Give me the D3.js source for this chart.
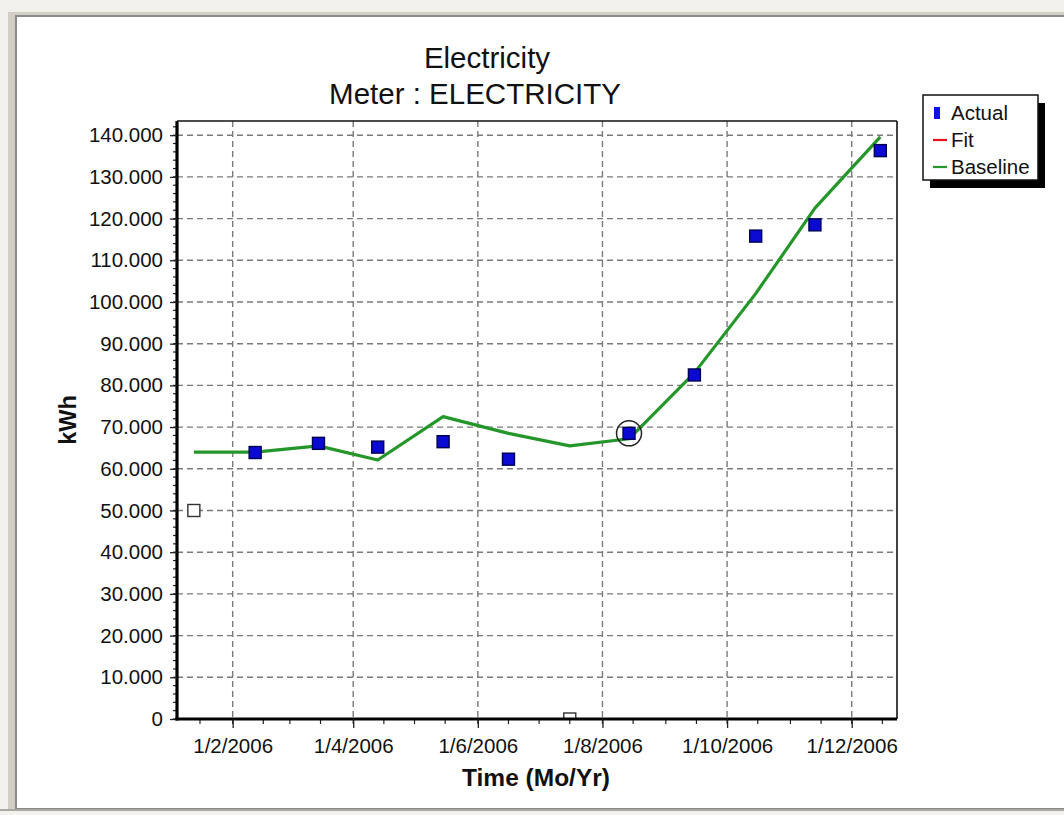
<!DOCTYPE html>
<html>
<head>
<meta charset="utf-8">
<script src="https://cdn.jsdelivr.net/npm/d3@7"></script>
<style>
  html, body { margin: 0; padding: 0; background: #f4f3ee; }
  svg { display: block; }
  text { font-family: "Liberation Sans", Arial, sans-serif; fill: #111; }
</style>
</head>
<body>
<svg id="chart" width="1064" height="815"></svg>
<script>
// ---- data ----
const readDates = ["2006-01-13","2006-02-12","2006-03-15","2006-04-13","2006-05-15","2006-06-16",
                   "2006-07-16","2006-08-14","2006-09-15","2006-10-15","2006-11-13","2006-12-15"];
const actualValues   = [50000, 63900, 66100, 65200, 66500, 62300, 0, 68500, 82500, 115800, 118500, 136300];
const excludedFlags  = [true, false, false, false, false, false, true, false, false, false, false, false];
const baselineValues = [64000, 64000, 65500, 62100, 72500, 68500, 65500, 67200, 83000, 102000, 122500, 139600];
const highlightIndex = [7];
const yTicks = [0,10000,20000,30000,40000,50000,60000,70000,80000,90000,100000,110000,120000,130000,140000];
const xTickDates = ["2006-02-01","2006-04-01","2006-06-01","2006-08-01","2006-10-01","2006-12-01"];
const legendItems = ["Actual","Fit","Baseline"];
const titleLines = ["Electricity","Meter : ELECTRICITY"];
const xTitle = "Time (Mo/Yr)";
const yTitle = "kWh";

// ---- setup ----
const parse = d3.timeParse("%Y-%m-%d");
const pts = readDates.map((d,i)=>({date: parse(d), actual: actualValues[i], excl: excludedFlags[i], base: baselineValues[i]}));

const svg = d3.select("#chart");
const L = 177, R = 897, T = 121, B = 719;

// window frame
svg.append("rect").attr("x",0).attr("y",0).attr("width",1064).attr("height",815).attr("fill","#f1f0ea");
svg.append("rect").attr("x",8).attr("y",12).attr("width",1056).attr("height",798).attr("fill","#d2cec6");
svg.append("rect").attr("x",15).attr("y",15).attr("width",1049).attr("height",794).attr("fill","#8a8a8a");
svg.append("rect").attr("x",17).attr("y",17).attr("width",1047).attr("height",791).attr("fill","#ffffff");
svg.append("rect").attr("x",0).attr("y",809).attr("width",1064).attr("height",2).attr("fill","#a9a9a4");
svg.append("rect").attr("x",0).attr("y",811).attr("width",1064).attr("height",4).attr("fill","#f3f2ec");

const x = d3.scaleTime()
  .domain([new Date(2006,0,4,18), new Date(2006,11,23,4)])
  .range([L, R]);
const y = d3.scaleLinear().domain([0, 143400]).range([B, T]);

const fmt = d3.formatLocale({decimal:",", thousands:".", grouping:[3], currency:["",""]}).format(",d");

// clip
svg.append("clipPath").attr("id","plotclip").append("rect")
  .attr("x",L).attr("y",T).attr("width",R-L).attr("height",B-T);

// grid
const grid = svg.append("g");
grid.selectAll("line.h").data(yTicks.filter(d=>d>0)).enter().append("line")
  .attr("x1",L).attr("x2",R).attr("y1",d=>y(d)).attr("y2",d=>y(d))
  .attr("stroke","#7a7a7a").attr("stroke-width",1.4).attr("stroke-dasharray","6,4");
grid.selectAll("line.v").data(xTickDates.map(parse)).enter().append("line")
  .attr("x1",d=>x(d)).attr("x2",d=>x(d)).attr("y1",T).attr("y2",B)
  .attr("stroke","#7a7a7a").attr("stroke-width",1.4).attr("stroke-dasharray","6,4");

const plot = svg.append("g").attr("clip-path","url(#plotclip)");

// baseline line
plot.append("path").datum(pts)
  .attr("d", d3.line().x(d=>x(d.date)).y(d=>y(d.base)))
  .attr("fill","none").attr("stroke","#24962a").attr("stroke-width",3.2).attr("stroke-linejoin","round");

// actual points
const S = 12;
plot.selectAll("rect.pt").data(pts).enter().append("rect")
  .attr("x",d=>x(d.date)-S/2).attr("y",d=>y(d.actual)-S/2)
  .attr("width",S).attr("height",S)
  .attr("fill",d=>d.excl ? "#ffffff" : "#0a0ad2")
  .attr("stroke",d=>d.excl ? "#333" : "#000055").attr("stroke-width",1.4);

// highlight circle
plot.selectAll("circle.hl").data(highlightIndex.map(i=>pts[i])).enter().append("circle")
  .attr("cx",d=>x(d.date)).attr("cy",d=>y(d.actual)).attr("r",12.5)
  .attr("fill","none").attr("stroke","#222").attr("stroke-width",1.5);

// frame top/right
svg.append("line").attr("x1",L).attr("x2",R).attr("y1",T).attr("y2",T).attr("stroke","#111").attr("stroke-width",1.6);
svg.append("line").attr("x1",R).attr("x2",R).attr("y1",T).attr("y2",B).attr("stroke","#111").attr("stroke-width",1.6);

// minor ticks
const minorY = d3.range(0, 143001, 2000);
svg.append("g").selectAll("line").data(minorY).enter().append("line")
  .attr("x1",L-4).attr("x2",L).attr("y1",d=>y(d)).attr("y2",d=>y(d))
  .attr("stroke","#222").attr("stroke-width",1.2);
const minorX = [];
for (let m = 0; m < 12; m++) { minorX.push(new Date(2006,m,1)); minorX.push(new Date(2006,m,16)); }
svg.append("g").selectAll("line").data(minorX.filter(d=>x(d)>L && x(d)<R)).enter().append("line")
  .attr("x1",d=>x(d)).attr("x2",d=>x(d)).attr("y1",B).attr("y2",B+5)
  .attr("stroke","#222").attr("stroke-width",1.2);

// y axis
const yAxis = svg.append("g").attr("transform",`translate(${L},0)`)
  .call(d3.axisLeft(y).tickValues(yTicks).tickFormat(fmt).tickSize(7).tickPadding(7));
yAxis.select(".domain").attr("stroke","#000").attr("stroke-width",3.2).attr("d",`M0,${T}V${B+1.5}`);
yAxis.selectAll(".tick line").attr("stroke","#222").attr("stroke-width",1.3);
yAxis.selectAll(".tick text").attr("font-size",20.5).attr("fill","#1a1a1a")
  .style("font-family","'Liberation Sans', Arial, sans-serif");

// x axis
const xAxis = svg.append("g").attr("transform",`translate(0,${B})`)
  .call(d3.axisBottom(x).tickValues(xTickDates.map(parse))
    .tickFormat(d=>`1/${d.getMonth()+1}/${d.getFullYear()}`).tickSize(9).tickPadding(10));
xAxis.select(".domain").attr("stroke","#000").attr("stroke-width",3.2).attr("d",`M${L-1.5},0H${R}`);
xAxis.selectAll(".tick line").attr("stroke","#222").attr("stroke-width",1.3);
xAxis.selectAll(".tick text").attr("font-size",20.5).attr("fill","#1a1a1a")
  .style("font-family","'Liberation Sans', Arial, sans-serif");

// titles
svg.append("text").attr("x",487).attr("y",68).attr("text-anchor","middle")
  .attr("font-size",29.5).text(titleLines[0]);
svg.append("text").attr("x",475).attr("y",104).attr("text-anchor","middle")
  .attr("font-size",29.5).text(titleLines[1]);
svg.append("text").attr("x",536).attr("y",786).attr("text-anchor","middle")
  .attr("font-size",24.5).attr("font-weight","bold").text(xTitle);
svg.append("text").attr("transform","translate(76,420) rotate(-90)").attr("text-anchor","middle")
  .attr("font-size",23.5).attr("font-weight","bold").text(yTitle);

// legend
const lg = svg.append("g");
lg.append("rect").attr("x",930).attr("y",103).attr("width",115).attr("height",85).attr("fill","#000");
lg.append("rect").attr("x",923).attr("y",95).attr("width",115).attr("height",85)
  .attr("fill","#fff").attr("stroke","#111").attr("stroke-width",1.5);
const rowY = [113, 140, 167];
lg.append("rect").attr("x",934).attr("y",rowY[0]-6).attr("width",6).attr("height",12).attr("fill","#1010e8");
lg.append("line").attr("x1",933).attr("x2",947).attr("y1",rowY[1]).attr("y2",rowY[1]).attr("stroke","#e8101a").attr("stroke-width",2.2);
lg.append("line").attr("x1",933).attr("x2",947).attr("y1",rowY[2]).attr("y2",rowY[2]).attr("stroke","#24962a").attr("stroke-width",2.2);
lg.selectAll("text").data(legendItems).enter().append("text")
  .attr("x",951).attr("y",(d,i)=>rowY[i]+7).attr("font-size",20.5).text(d=>d);
</script>
</body>
</html>
